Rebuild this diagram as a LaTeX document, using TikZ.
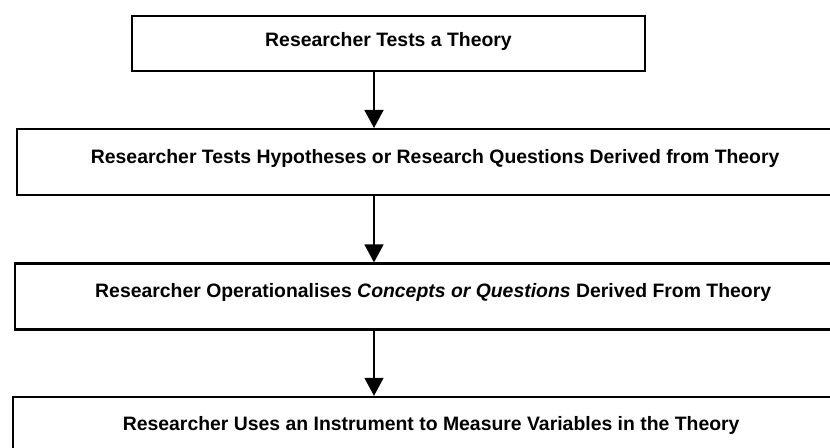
\documentclass[tikz,border=0pt]{standalone}
\usepackage{fontspec}
\setmainfont{Liberation Sans}
\usetikzlibrary{arrows.meta,positioning}

\begin{document}
\begin{tikzpicture}[
    box/.style={rectangle, draw=black, line width=1.2pt, inner sep=0pt,
                font=\fontsize{9.7pt}{11.6pt}\selectfont\bfseries},
    stage/.style={box, minimum width=418pt, minimum height=33pt,
                  text height=17pt, text depth=16pt},
    arrow/.style={-{Triangle[length=9pt,width=9.5pt]}, line width=0.8pt, black}
]
\path[use as bounding box, clip] (0,0) rectangle (415pt,-224pt);

\node[box, minimum width=256.5pt, minimum height=27.5pt, text height=15.5pt, text depth=12pt]
     (theory) at (194.25pt,-21.75pt) {Researcher Tests a Theory};
\node[stage, anchor=north west] (hypo) at (8pt,-64pt)
     {Researcher Tests Hypotheses or Research Questions Derived from Theory};
\node[stage, below=33pt of hypo, xshift=-1pt] (concept)
     {Researcher Operationalises \textit{Concepts or Questions} Derived From Theory};
\node[stage, below=32.5pt of concept, xshift=-1pt] (measure)
     {Researcher Uses an Instrument to Measure Variables in the Theory};

\coordinate (spine) at (187pt,0);
\draw[arrow] (theory.south -| spine)  -- (hypo.north -| spine);
\draw[arrow] (hypo.south -| spine)    -- (concept.north -| spine);
\draw[arrow] (concept.south -| spine) -- (measure.north -| spine);
\end{tikzpicture}
\end{document}
